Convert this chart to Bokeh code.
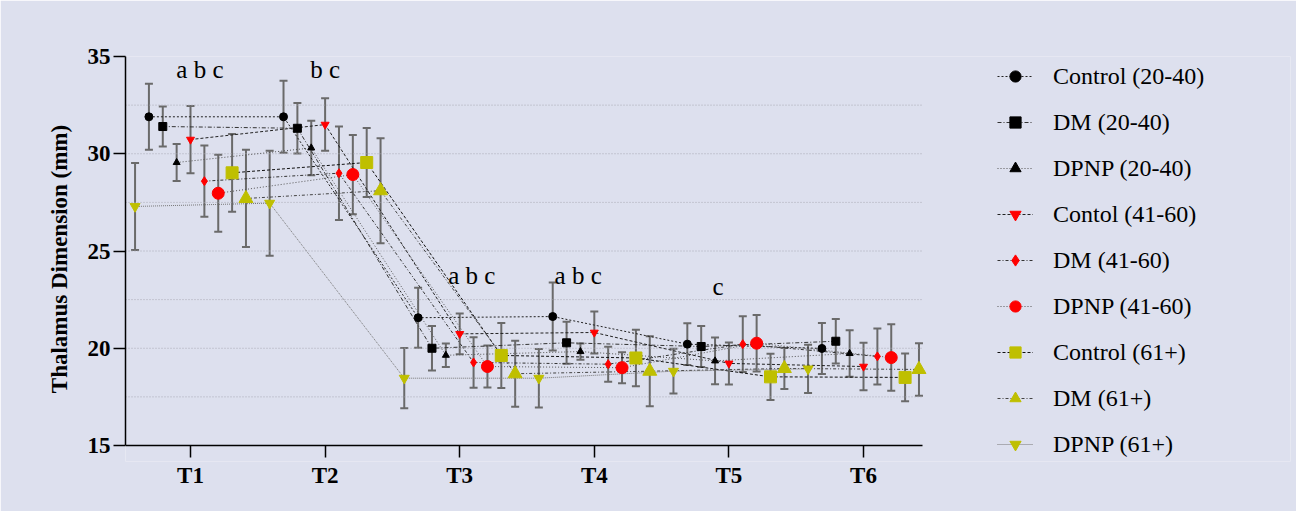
from bokeh.plotting import figure
from bokeh.models import (ColumnDataSource, Whisker, TeeHead, Legend, LegendItem,
                          FixedTicker, Range1d, Label, LinearAxis)
from bokeh.embed import file_html
from bokeh.resources import INLINE

# ---------------- data ----------------
times = ["T1", "T2", "T3", "T4", "T5", "T6"]

series_names = ["Control (20-40)", "DM (20-40)", "DPNP (20-40)",
                "Contol (41-60)", "DM (41-60)", "DPNP (41-60)",
                "Control (61+)", "DM (61+)", "DPNP (61+)"]

control_20_40 = [31.90, 31.90, 21.57, 21.63, 20.21, 19.99]
control_20_40_sd = [1.70, 1.85, 1.54, 1.75, 1.07, 1.31]
dm_20_40 = [31.40, 31.31, 20.00, 20.28, 20.09, 20.36]
dm_20_40_sd = [1.03, 1.30, 1.14, 1.08, 1.05, 1.15]
dpnp_20_40 = [29.55, 30.30, 19.64, 19.83, 19.35, 19.73]
dpnp_20_40_sd = [0.95, 1.40, 0.60, 0.42, 1.20, 1.20]
control_41_60 = [30.73, 31.50, 20.74, 20.81, 19.22, 19.06]
control_41_60_sd = [1.73, 1.35, 1.05, 1.08, 1.08, 1.22]
dm_41_60 = [28.59, 29.00, 19.27, 19.18, 20.21, 19.58]
dm_41_60_sd = [1.83, 2.40, 1.30, 0.90, 1.43, 1.44]
dpnp_41_60 = [27.97, 28.93, 19.06, 19.00, 20.26, 19.52]
dpnp_41_60_sd = [1.98, 2.04, 1.08, 0.80, 1.45, 1.71]
control_61 = [29.02, 29.55, 19.63, 19.50, 18.53, 18.50]
control_61_sd = [2.00, 1.78, 1.67, 1.45, 1.19, 1.23]
dm_61 = [27.70, 28.10, 18.69, 18.82, 18.96, 18.91]
dm_61_sd = [2.50, 2.70, 1.70, 1.80, 1.05, 1.35]
dpnp_61 = [27.29, 27.46, 18.46, 18.46, 18.82, 18.94]
dpnp_61_sd = [2.24, 2.70, 1.55, 1.50, 1.15, 1.24]

means = [control_20_40, dm_20_40, dpnp_20_40, control_41_60, dm_41_60,
         dpnp_41_60, control_61, dm_61, dpnp_61]
sds = [control_20_40_sd, dm_20_40_sd, dpnp_20_40_sd, control_41_60_sd,
       dm_41_60_sd, dpnp_41_60_sd, control_61_sd, dm_61_sd, dpnp_61_sd]

y_ticks = [15, 20, 25, 30, 35]
grid_levels = [17.5, 20, 22.5, 25, 27.5, 30, 32.5]

# significance letters
ann_labels = ["a b c", "b c", "a b c", "a b c", "c"]
ann_time = [1, 2, 3, 4, 5]
ann_level = [34.33, 34.33, 23.74, 23.74, 23.17]
ann_shift = [0.07, 0.0, 0.09, -0.12, -0.08]

# ---------------- styles ----------------
slot = [-3, -2, -1, 0, 1, 2, 3, 4, -4]
step = 0.103
markers = ["circle", "square", "triangle", "inverted_triangle", "diamond",
           "circle", "square", "triangle", "inverted_triangle"]
YEL = "#bfbf00"
colors = ["black", "black", "black", "red", "red", "red", YEL, YEL, YEL]
msizes = [8, 8, 7, 8, 9, 12, 12, 14, 10]
dashes = ["2 2", "4 2 1 2", "1 2", "3 2", "3 2 1 2", "1 2", "3 2", "3 2 1 2", "1 1"]
lcolors = ["#222222", "#333333", "#555555", "#222222", "#333333", "#555555",
           "#111111", "#444444", "#777777"]

BG = "#dde0ee"
FONT = "Liberation Serif"

W, H = 1296, 511
LEFT, RIGHT, TOP, BOTTOM = 125, 6, 56, 50
px_x = 134.6                      # pixels per time step
px_y = 19.45                      # pixels per mm
X0, XAX_END = 0.517, 6.44
Y_MIN, Y_MAX = 15, 35
X1 = X0 + (W - LEFT - RIGHT) / px_x
Y0 = Y_MIN - (H - BOTTOM - TOP - (Y_MAX - Y_MIN) * px_y) / px_y

p = figure(width=W, height=H, output_backend="svg", toolbar_location=None,
           x_range=Range1d(X0, X1), y_range=Range1d(Y0, Y_MAX),
           min_border_left=LEFT, min_border_right=RIGHT, min_border_top=TOP,
           min_border_bottom=BOTTOM)
p.background_fill_color = BG
p.border_fill_color = BG
p.outline_line_color = None
p.xgrid.visible = False
p.ygrid.visible = False

# dotted horizontal grid lines limited to the axis extent
p.segment(x0=[X0] * len(grid_levels), x1=[XAX_END] * len(grid_levels),
          y0=grid_levels, y1=grid_levels, line_color="#a8a8b4",
          line_dash="1 2", line_width=1)

time_ticker = FixedTicker(ticks=list(range(1, len(times) + 1)))
time_labels = {i + 1: t for i, t in enumerate(times)}

# label-only x axis, just below the frame
xa = p.xaxis[0]
xa.ticker = time_ticker
xa.major_label_overrides = time_labels
xa.bounds = (X0, XAX_END)
xa.axis_line_color = None
xa.major_tick_line_color = None
xa.minor_tick_line_color = None
xa.major_tick_in = 0
xa.major_tick_out = 0
xa.major_label_standoff = 1
xa.major_label_text_font = FONT
xa.major_label_text_font_style = "bold"
xa.major_label_text_font_size = "23px"
xa.major_label_text_color = "black"

# x axis line and ticks at y = 15
xline = LinearAxis(ticker=time_ticker, fixed_location=Y_MIN,
                   bounds=(X0, XAX_END), axis_line_color="black",
                   axis_line_width=1.5, major_tick_line_color="black",
                   major_tick_line_width=1.5, major_tick_in=0,
                   major_tick_out=12, minor_tick_line_color=None,
                   major_label_text_font_size="1px", major_label_text_alpha=0,
                   major_label_standoff=0)
p.add_layout(xline, "below")

ya = p.yaxis[0]
ya.ticker = FixedTicker(ticks=y_ticks)
ya.bounds = (Y_MIN, Y_MAX)
ya.axis_line_color = "black"
ya.axis_line_width = 1.5
ya.major_tick_line_color = "black"
ya.major_tick_line_width = 1.5
ya.major_tick_in = 0
ya.major_tick_out = 12
ya.minor_tick_line_color = None
ya.major_label_text_font = FONT
ya.major_label_text_font_style = "bold"
ya.major_label_text_font_size = "23px"
ya.major_label_text_color = "black"
ya.major_label_standoff = 3
ya.axis_label = "Thalamus Dimension (mm)"
ya.axis_label_text_font = FONT
ya.axis_label_text_font_style = "bold"
ya.axis_label_text_font_size = "23px"
ya.axis_label_text_color = "black"
ya.axis_label_standoff = 13

line_rs, srcs, mark_rs = [], [], []
for i, name in enumerate(series_names):
    xs = [t + 1 + slot[i] * step for t in range(len(times))]
    m = means[i]
    s = sds[i]
    src = ColumnDataSource(dict(x=xs, y=m, upper=[a + b for a, b in zip(m, s)],
                                lower=[a - b for a, b in zip(m, s)]))
    lr = p.line("x", "y", source=src, line_color=lcolors[i], line_width=1,
                line_dash=dashes[i])
    w = Whisker(base="x", upper="upper", lower="lower", source=src,
                dimension="height", line_color="#6a6a6a", line_width=2,
                upper_head=TeeHead(size=8, line_color="#6a6a6a", line_width=2),
                lower_head=TeeHead(size=8, line_color="#6a6a6a", line_width=2),
                level="underlay")
    p.add_layout(w)
    line_rs.append(lr)
    srcs.append(src)

for i, name in enumerate(series_names):
    mr = p.scatter("x", "y", source=srcs[i], marker=markers[i], size=msizes[i],
                   fill_color=colors[i], line_color=colors[i])
    mark_rs.append(mr)

for lab, t, lv, dx in zip(ann_labels, ann_time, ann_level, ann_shift):
    p.add_layout(Label(x=t + dx, y=lv, text=lab, text_align="center",
                       text_baseline="alphabetic", text_font=FONT,
                       text_font_size="25px", text_color="black"))

items = [LegendItem(label=name, renderers=[line_rs[i], mark_rs[i]])
         for i, name in enumerate(series_names)]
legend = Legend(items=items, location=(872, 3), glyph_width=36,
                glyph_height=28, label_height=28, spacing=18, padding=0,
                margin=0, label_standoff=20, label_text_font=FONT,
                label_text_font_size="24px", label_text_color="black",
                background_fill_alpha=0, border_line_alpha=0)
p.add_layout(legend)

open("out.html", "w").write(file_html(p, INLINE))
